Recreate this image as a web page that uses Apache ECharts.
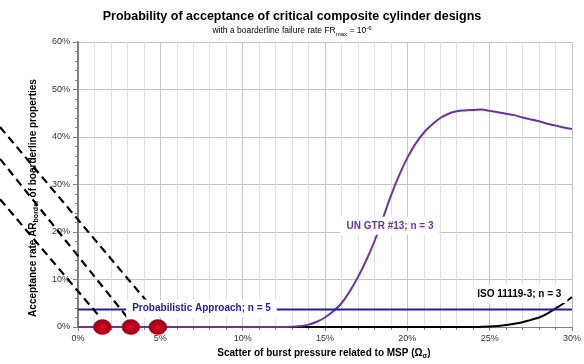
<!DOCTYPE html>
<html>
<head>
<meta charset="utf-8">
<script src="https://cdn.jsdelivr.net/npm/echarts@6/dist/echarts.min.js"></script>
<style>
  html, body { margin: 0; padding: 0; background: #fff; }
  #chart { width: 584px; height: 364px; }
</style>
</head>
<body>
<div id="chart"></div>
<script>
// scatter of burst pressure (%), sampled every 0.5 %
const scatterPct = [
  0, 0.5, 1, 1.5, 2, 2.5, 3, 3.5, 4, 4.5, 5, 5.5, 6, 6.5, 7, 7.5, 8, 8.5, 9, 9.5,
  10, 10.5, 11, 11.5, 12, 12.5, 13, 13.5, 14, 14.5, 15, 15.5, 16, 16.5, 17, 17.5,
  18, 18.5, 19, 19.5, 20, 20.5, 21, 21.5, 22, 22.5, 23, 23.5, 24, 24.5, 25, 25.5,
  26, 26.5, 27, 27.5, 28, 28.5, 29, 29.5, 30
]
// UN GTR #13; n = 3 (acceptance rate %)
const unGtr = [
  0, 0, 0, 0, 0, 0, 0, 0, 0, 0, 0, 0, 0, 0, 0, 0, 0, 0, 0, 0,
  0, 0, 0, 0, 0, 0.01, 0.05, 0.2, 0.5, 1.1, 2.0, 3.3, 5.0, 7.5, 10.5, 14,
  18, 22.7, 27.6, 31.9, 35.6, 38.6, 40.9, 42.6, 44, 44.9, 45.4, 45.6, 45.7, 45.8, 45.5, 45.2,
  44.9, 44.6, 44.1, 43.7, 43.3, 42.8, 42.4, 42.0, 41.7
]
// ISO 11119-3; n = 3
const iso = [
  0, 0, 0, 0, 0, 0, 0, 0, 0, 0, 0, 0, 0, 0, 0, 0, 0, 0, 0, 0,
  0, 0, 0, 0, 0, 0, 0, 0, 0, 0, 0, 0, 0, 0, 0, 0,
  0, 0, 0, 0, 0, 0, 0, 0, 0, 0, 0, 0, 0, 0.03, 0.08, 0.2,
  0.4, 0.7, 1.0, 1.5, 2.0, 2.8, 3.9, 5.0, 6.3
]
// Probabilistic Approach; n = 5 (constant)
const probX = [0, 30]
const probY = [3.7, 3.7]
// borderline designs on the x axis
const designX = [1.48, 3.21, 4.85]
const designY = [0, 0, 0]
// dashed guide lines [x1, y1, x2, y2], drawn on the wide helper axes
const guideLines = [
  [-4.66, 26.9, 1.31, 2.1],
  [-4.66, 35.4, 2.93, 2.1],
  [-4.66, 42.1, 4.90, 2.1]
]
// curve labels [text, x, y, colour]
const curveLabels = [
  ['UN GTR #13; n = 3', 18.95, 21.3, '#7030a0'],
  ['Probabilistic Approach; n = 5', 7.5, 3.9, '#1c1cb0'],
  ['ISO 11119-3; n = 3', 26.8, 6.95, '#000000']
]

const font = 'Liberation Sans, Arial, sans-serif'
const chart = echarts.init(document.getElementById('chart'))

const zip = (xs, ys) => xs.map((x, i) => [x, ys[i]])

const option = {
  animation: false,
  title: {
    text: 'Probability of acceptance of critical composite cylinder designs',
    subtext: 'with a boarderline failure rate FR{sub|max} = 10{sup|-6}',
    left: 'center',
    top: 5,
    itemGap: 2,
    textStyle: { fontFamily: font, fontSize: 12.5, fontWeight: 'bold', color: '#000' },
    subtextStyle: {
      fontFamily: font, fontSize: 8.5, color: '#000', lineHeight: 12,
      rich: {
        sub: { fontFamily: font, fontSize: 6, lineHeight: 6, verticalAlign: 'bottom', color: '#000' },
        sup: { fontFamily: font, fontSize: 6, lineHeight: 6, verticalAlign: 'top', color: '#000' }
      }
    }
  },
  grid: [
    { left: 78, right: 4, top: 42, bottom: 37 },
    // helper grid reaching the left edge, same scale as the main one
    { left: 0, right: 4, top: 42, bottom: 37 }
  ],
  xAxis: [
    {
      type: 'value',
      min: 0,
      max: 30,
      interval: 5,
      axisLine: { show: true, onZero: false, lineStyle: { color: '#808080', width: 1 } },
      axisTick: { show: true, length: 4, lineStyle: { color: '#808080' } },
      minorTick: { show: true, splitNumber: 5, length: 3, lineStyle: { color: '#808080' } },
      splitLine: { show: true, lineStyle: { color: '#c4c4c4', width: 1 } },
      minorSplitLine: { show: true, lineStyle: { color: '#e0e0e0', width: 1 } },
      axisLabel: { formatter: '{value}%', fontFamily: font, fontSize: 9, color: '#333', margin: 7 }
    },
    { type: 'value', gridIndex: 1, min: -4.661, max: 30, show: false }
  ],
  yAxis: [
    {
      type: 'value',
      min: 0,
      max: 60,
      interval: 10,
      axisLine: { show: true, lineStyle: { color: '#808080', width: 2 } },
      axisTick: { show: true, length: 5, lineStyle: { color: '#808080' } },
      minorTick: { show: true, splitNumber: 5, length: 3, lineStyle: { color: '#808080' } },
      splitLine: { show: true, lineStyle: { color: '#c4c4c4', width: 1 } },
      axisLabel: { formatter: '{value}%', fontFamily: font, fontSize: 9, color: '#333', margin: 8 }
    },
    { type: 'value', gridIndex: 1, min: 0, max: 60, show: false }
  ],
  graphic: [
    {
      type: 'text',
      x: 324,
      y: 353,
      z: 100,
      style: {
        text: 'Scatter of burst pressure related to MSP (Ω{sub|σ})',
        font: 'bold 10px ' + font,
        fill: '#000',
        align: 'center',
        verticalAlign: 'middle',
        lineHeight: 14,
        rich: {
          sub: { fontSize: 7, fontWeight: 'bold', fontFamily: font, lineHeight: 7, verticalAlign: 'bottom', fill: '#000' }
        }
      }
    },
    {
      type: 'text',
      x: 33,
      y: 198,
      z: 100,
      rotation: Math.PI / 2,
      style: {
        text: 'Acceptance rate AR{sub|border} of boarderline properties',
        font: 'bold 10px ' + font,
        fill: '#000',
        align: 'center',
        verticalAlign: 'middle',
        lineHeight: 14,
        rich: {
          sub: { fontSize: 7, fontWeight: 'bold', fontFamily: font, lineHeight: 7, verticalAlign: 'bottom', fill: '#000' }
        }
      }
    }
  ],
  series: [
    ...guideLines.map((g) => ({
      type: 'line',
      xAxisIndex: 1,
      yAxisIndex: 1,
      data: [[g[0], g[1]], [g[2], g[3]]],
      symbol: 'none',
      silent: true,
      z: 4,
      lineStyle: { color: '#000', width: 2.2, type: [8, 5] }
    })),
    {
      name: 'ISO 11119-3; n = 3',
      type: 'line',
      data: zip(scatterPct, iso),
      symbol: 'none',
      smooth: 0.4,
      clip: false,
      z: 3,
      lineStyle: { color: '#000', width: 2 }
    },
    {
      name: 'UN GTR #13; n = 3',
      type: 'line',
      data: zip(scatterPct, unGtr),
      symbol: 'none',
      smooth: 0.4,
      clip: false,
      z: 3,
      lineStyle: { color: '#7030a0', width: 2 }
    },
    {
      name: 'Probabilistic Approach; n = 5',
      type: 'line',
      data: zip(probX, probY),
      symbol: 'none',
      z: 3,
      lineStyle: { color: '#1c1cb0', width: 2 }
    },
    {
      type: 'scatter',
      data: zip(designX, designY),
      clip: false,
      z: 6,
      symbol: 'circle',
      symbolSize: [18, 15],
      itemStyle: {
        opacity: 1,
        color: new echarts.graphic.RadialGradient(0.5, 0.5, 0.5, [
          { offset: 0, color: '#e8102c' },
          { offset: 0.35, color: '#c4001e' },
          { offset: 1, color: '#9a0016' }
        ]),
        borderColor: '#8a0012',
        borderWidth: 0.5
      }
    },
    {
      type: 'scatter',
      data: curveLabels.map((l) => ({
        value: [l[1], l[2]],
        label: { color: l[3] }
      })),
      symbolSize: 1,
      z: 7,
      silent: true,
      itemStyle: { color: 'transparent', opacity: 1 },
      label: {
        show: true,
        position: 'inside',
        formatter: (p) => curveLabels[p.dataIndex][0],
        fontFamily: font,
        fontSize: 10,
        fontWeight: 'bold',
        textBorderWidth: 0,
        opacity: 1,
        backgroundColor: '#fff',
        padding: [4, 6]
      },
      labelLayout: { hideOverlap: false },
      emphasis: { disabled: true }
    }
  ]
}

chart.setOption(option)
</script>
</body>
</html>
